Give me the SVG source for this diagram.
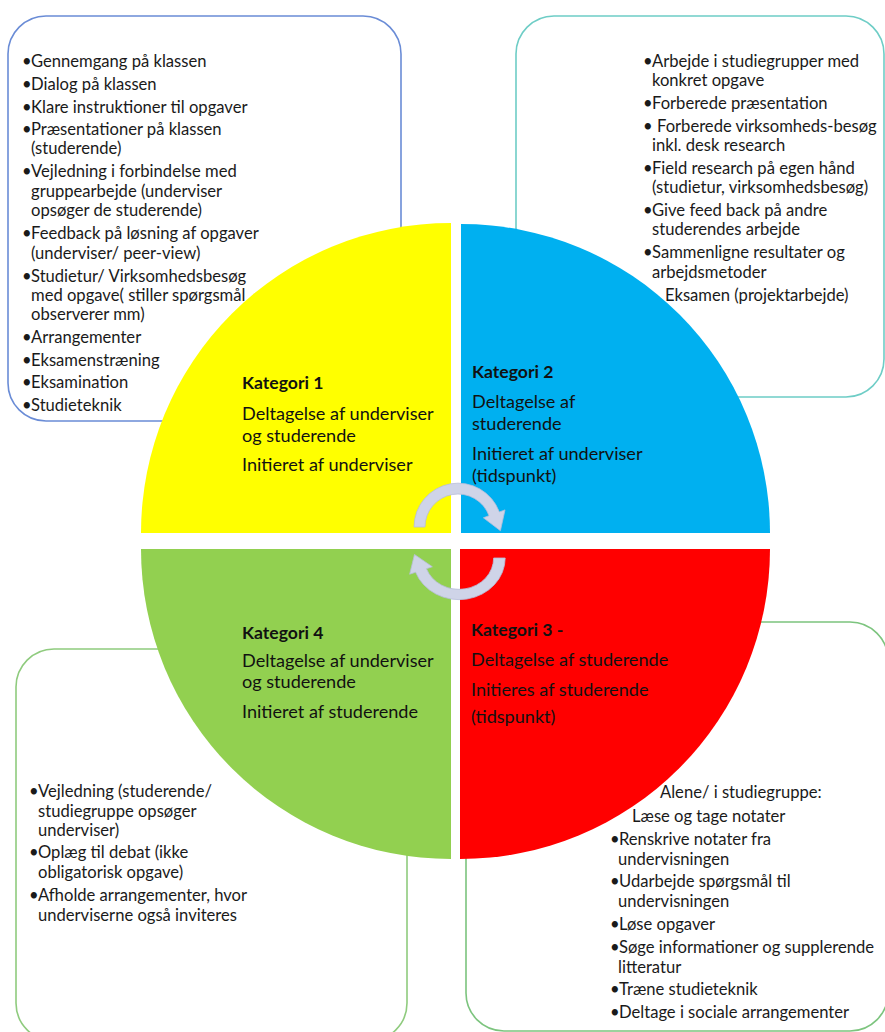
<svg xmlns="http://www.w3.org/2000/svg" width="885" height="1032" viewBox="0 0 885 1032">
<style>
.box{fill:none;stroke-width:1.6}
.t{font-family:Lato,"Liberation Sans",sans-serif;font-size:16.6px;fill:#1a1a1a}
.q{font-family:Lato,"Liberation Sans",sans-serif;font-size:18.1px;fill:#111}
.b{font-weight:bold;font-size:17.6px}
.arrow{fill:#CFD4E8;stroke:#B7BED9;stroke-width:0.8}
</style>
<defs>
<path id="carrow" d="M -44 0 A 44 44 0 0 1 41.3 -15 L 47 -17.1 L 42.4 3.7 L 25.4 -9.2 L 31 -11.3 A 33 33 0 0 0 -33 0 Z"/>
</defs>
<rect width="885" height="1032" fill="#fff"/>
<g id="box-tl"><rect class="box" x="8" y="16" width="393" height="405" rx="38" stroke="#6A8CD6"/></g>
<g id="box-tr"><rect class="box" x="516" y="16" width="368" height="381" rx="38" stroke="#6ECDC6"/></g>
<g id="box-bl"><rect class="box" x="16" y="649" width="391" height="392" rx="38" stroke="#8FCB7E"/></g>
<g id="box-br"><rect class="box" x="466" y="622" width="422" height="409" rx="38" stroke="#7CC47E"/></g>

<g id="q1"><path d="M451 533 L141 533 A310 310 0 0 1 451 223 Z" fill="#FFFF00"/></g>
<g id="q2"><path d="M461 533 L461 224 A309 309 0 0 1 770 533 Z" fill="#00B0F0"/></g>
<g id="q4"><path d="M451 549 L141 549 A310 310 0 0 0 451 859 Z" fill="#92D050"/></g>
<g id="q3"><path d="M460 549 L770 549 A310 310 0 0 1 460 859 Z" fill="#FF0000"/></g>

<g id="text-tl" class="t">
<text y="67"><tspan x="22">•</tspan><tspan x="31">Gennemgang på klassen</tspan></text>
<text y="90"><tspan x="22">•</tspan><tspan x="31">Dialog på klassen</tspan></text>
<text y="113"><tspan x="22">•</tspan><tspan x="31">Klare instruktioner til opgaver</tspan></text>
<text y="135"><tspan x="22">•</tspan><tspan x="31">Præsentationer på klassen</tspan></text>
<text x="31" y="154">(studerende)</text>
<text y="177"><tspan x="22">•</tspan><tspan x="31">Vejledning i forbindelse med</tspan></text>
<text x="31" y="197">gruppearbejde (underviser</text>
<text x="31" y="216">opsøger de studerende)</text>
<text y="239"><tspan x="22">•</tspan><tspan x="31">Feedback på løsning af opgaver</tspan></text>
<text x="31" y="259">(underviser/ peer-view)</text>
<text y="282"><tspan x="22">•</tspan><tspan x="31">Studietur/ Virksomhedsbesøg</tspan></text>
<text x="31" y="301">med opgave( stiller spørgsmål</text>
<text x="31" y="320">observerer mm)</text>
<text y="343"><tspan x="22">•</tspan><tspan x="31">Arrangementer</tspan></text>
<text y="366"><tspan x="22">•</tspan><tspan x="31">Eksamenstræning</tspan></text>
<text y="388"><tspan x="22">•</tspan><tspan x="31">Eksamination</tspan></text>
<text y="411"><tspan x="22">•</tspan><tspan x="31">Studieteknik</tspan></text>
</g>

<g id="text-tr" class="t">
<text y="67"><tspan x="643">•</tspan><tspan x="652">Arbejde i studiegrupper med</tspan></text>
<text x="652" y="86">konkret opgave</text>
<text y="109"><tspan x="643">•</tspan><tspan x="652">Forberede præsentation</tspan></text>
<text y="132"><tspan x="643">•</tspan><tspan x="657">Forberede virksomheds-besøg</tspan></text>
<text x="652" y="151">inkl. desk research</text>
<text y="174"><tspan x="643">•</tspan><tspan x="652">Field research på egen hånd</tspan></text>
<text x="652" y="193">(studietur, virksomhedsbesøg)</text>
<text y="216"><tspan x="643">•</tspan><tspan x="652">Give feed back på andre</tspan></text>
<text x="652" y="235">studerendes arbejde</text>
<text y="258"><tspan x="643">•</tspan><tspan x="652">Sammenligne resultater og</tspan></text>
<text x="652" y="278">arbejdsmetoder</text>
<text x="665" y="301">Eksamen (projektarbejde)</text>
</g>

<g id="text-bl" class="t">
<text y="797"><tspan x="29">•</tspan><tspan x="38">Vejledning (studerende/</tspan></text>
<text x="38" y="817">studiegruppe opsøger</text>
<text x="38" y="836">underviser)</text>
<text y="858"><tspan x="29">•</tspan><tspan x="38">Oplæg til debat (ikke</tspan></text>
<text x="38" y="878">obligatorisk opgave)</text>
<text y="901"><tspan x="29">•</tspan><tspan x="38">Afholde arrangementer, hvor</tspan></text>
<text x="38" y="921">underviserne også inviteres</text>
</g>

<g id="text-br" class="t">
<text x="660" y="798">Alene/ i studiegruppe:</text>
<text x="632" y="822">Læse og tage notater</text>
<text y="845"><tspan x="610">•</tspan><tspan x="619">Renskrive notater fra</tspan></text>
<text x="618" y="865">undervisningen</text>
<text y="887"><tspan x="610">•</tspan><tspan x="619">Udarbejde spørgsmål til</tspan></text>
<text x="618" y="907">undervisningen</text>
<text y="930"><tspan x="610">•</tspan><tspan x="619">Løse opgaver</tspan></text>
<text y="953"><tspan x="610">•</tspan><tspan x="619">Søge informationer og supplerende</tspan></text>
<text x="618" y="973">litteratur</text>
<text y="995"><tspan x="610">•</tspan><tspan x="619">Træne studieteknik</tspan></text>
<text y="1018"><tspan x="610">•</tspan><tspan x="619">Deltage i sociale arrangementer</tspan></text>
</g>

<g id="label-k1" class="q">
<text class="b" x="242" y="389">Kategori 1</text>
<text x="242" y="420">Deltagelse af underviser</text>
<text x="242" y="442">og studerende</text>
<text x="242" y="471">Initieret af underviser</text>
</g>
<g id="label-k2" class="q">
<text class="b" x="472" y="378">Kategori 2</text>
<text x="472" y="408">Deltagelse af</text>
<text x="472" y="430">studerende</text>
<text x="472" y="460">Initieret af underviser</text>
<text x="472" y="482">(tidspunkt)</text>
</g>
<g id="label-k4" class="q">
<text class="b" x="242" y="639">Kategori 4</text>
<text x="242" y="667">Deltagelse af underviser</text>
<text x="242" y="688">og studerende</text>
<text x="242" y="718">Initieret af studerende</text>
</g>
<g id="label-k3" class="q">
<text class="b" x="471" y="636">Kategori 3 -</text>
<text x="471" y="666">Deltagelse af studerende</text>
<text x="471" y="696">Initieres af studerende</text>
<text x="471" y="723">(tidspunkt)</text>
</g>

<g id="connectors">
<use href="#carrow" class="arrow" transform="translate(458,527)"/>
<use href="#carrow" class="arrow" transform="translate(459,558) rotate(180) scale(1.05,0.95)"/>
</g>
</svg>
